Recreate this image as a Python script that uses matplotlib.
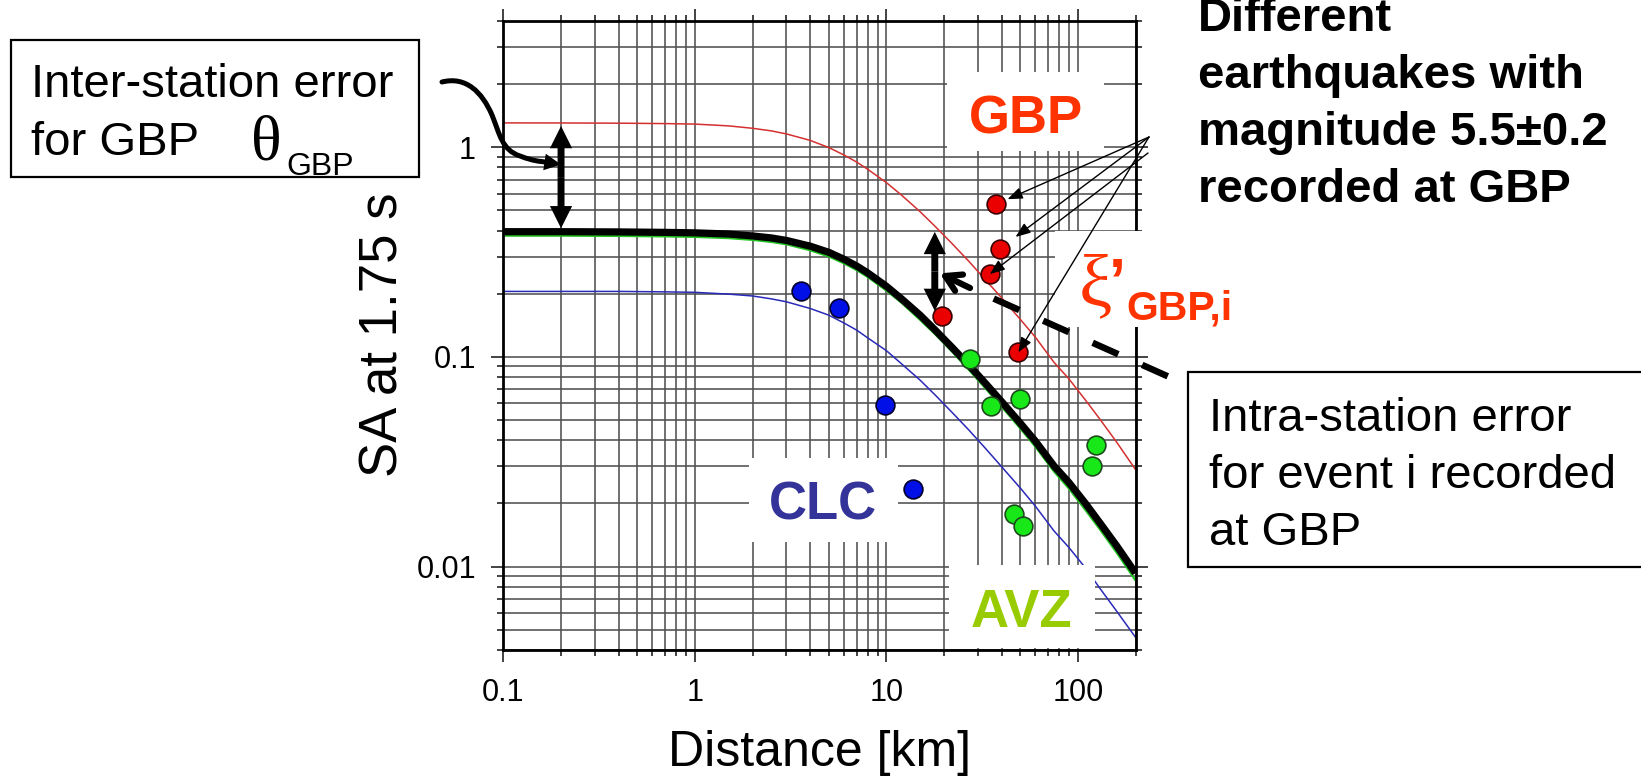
import matplotlib
matplotlib.use("Agg")
import matplotlib.pyplot as plt
from matplotlib import font_manager
from matplotlib.lines import Line2D
from matplotlib.patches import Rectangle, PathPatch
from matplotlib.path import Path
from matplotlib.ticker import FixedLocator, LogLocator, NullFormatter

W, H = 1641, 778

# Ground-motion prediction curves: distance (km) vs SA at 1.75 s (g)
dist_km = [0.1, 0.2, 0.4, 0.7, 1, 1.5, 2, 2.5, 3, 4, 5, 6, 7, 8, 10, 12, 15, 18,
           22, 27, 33, 40, 50, 60, 75, 90, 110, 130, 160, 200]
sa_median = [0.395, 0.395, 0.394, 0.392, 0.390, 0.385, 0.377, 0.369, 0.359, 0.337,
             0.315, 0.292, 0.271, 0.251, 0.217, 0.189, 0.158, 0.134, 0.111, 0.0912,
             0.0745, 0.0611, 0.0483, 0.0396, 0.0302, 0.0251, 0.0199, 0.0162, 0.0125, 0.0093]
sa_gbp_curve = [1.304, 1.303, 1.300, 1.294, 1.287, 1.262, 1.229, 1.195, 1.156, 1.076,
                0.995, 0.917, 0.848, 0.783, 0.677, 0.590, 0.492, 0.418, 0.347, 0.285,
                0.232, 0.191, 0.151, 0.124, 0.0942, 0.0783, 0.0619, 0.0506, 0.0390, 0.0290]
sa_clc_curve = [0.205, 0.205, 0.205, 0.204, 0.203, 0.199, 0.195, 0.189, 0.183, 0.170,
                0.158, 0.145, 0.134, 0.123, 0.107, 0.0926, 0.0774, 0.0657, 0.0544, 0.0447,
                0.0365, 0.0299, 0.0237, 0.0194, 0.0148, 0.0123, 0.0098, 0.0079, 0.0061, 0.0046]
sa_avz_curve = [0.378, 0.378, 0.377, 0.375, 0.373, 0.368, 0.361, 0.353, 0.344, 0.322,
                0.301, 0.279, 0.259, 0.240, 0.207, 0.181, 0.150, 0.128, 0.106, 0.0866,
                0.0706, 0.0578, 0.0456, 0.0373, 0.0284, 0.0235, 0.0185, 0.0151, 0.0116, 0.0086]

# Recorded events per station
gbp_dist = [37.4, 39.2, 34.7, 19.5, 48.9]
gbp_sa = [0.534, 0.328, 0.248, 0.157, 0.105]
clc_dist = [3.58, 5.65, 9.85, 13.7]
clc_sa = [0.205, 0.170, 0.0589, 0.0235]
avz_dist = [27.5, 35.2, 49.9, 124, 119, 46.4, 51.9]
avz_sa = [0.0973, 0.0582, 0.0627, 0.0379, 0.0303, 0.0179, 0.0156]

# Error bars: inter-station (theta) and intra-station (xi) terms
inter_x, inter_lo, inter_hi = 0.2, 0.41, 1.26
intra_x, intra_lo, intra_hi = 17.9, 0.1655, 0.394

x_ticks = [0.1, 1, 10, 100]
x_tick_labels = ["0.1", "1", "10", "100"]
y_ticks = [0.01, 0.1, 1]
y_tick_labels = ["0.01", "0.1", "1"]

plt.rcParams["font.family"] = ["Liberation Sans", "DejaVu Sans"]
SERIF = ["Liberation Serif", "DejaVu Serif"]

installed = {f.name for f in font_manager.fontManager.ttflist}
if "Liberation Sans Narrow" in installed:
    ylab_family, ylab_size = ["Liberation Sans Narrow", "Liberation Sans"], 46
else:
    ylab_family, ylab_size = ["Liberation Sans", "DejaVu Sans"], 38

fig = plt.figure(figsize=(W / 100, H / 100), dpi=100)
fig.patch.set_facecolor("white")


def fp(x, y):
    """Pixel position measured from the top-left corner -> figure fraction."""
    return (x / W, 1 - y / H)


ax_l, ax_r, ax_t, ax_b = 503.4, 1135.5, 20.8, 650.0
ax = fig.add_axes([ax_l / W, 1 - ax_b / H, (ax_r - ax_l) / W, (ax_b - ax_t) / H])
ax.set_xscale("log")
ax.set_yscale("log")
ax.set_xlim(0.1, 200)
ax.set_ylim(0.004, 4.0)

ax.xaxis.set_major_locator(FixedLocator(x_ticks))
ax.yaxis.set_major_locator(FixedLocator(y_ticks))
ax.set_xticklabels(x_tick_labels, fontsize=22)
ax.set_yticklabels(y_tick_labels, fontsize=22)
for axis in (ax.xaxis, ax.yaxis):
    axis.set_minor_locator(LogLocator(base=10, subs=range(2, 10), numticks=50))
    axis.set_minor_formatter(NullFormatter())

ax.grid(True, which="both", color="#505050", lw=1.15)
ax.tick_params(which="both", direction="out", top=True, right=True,
               width=1.2, color="#222222")
ax.tick_params(which="major", length=8.3)
ax.tick_params(which="minor", length=4.3)
ax.tick_params(axis="x", pad=12)
ax.tick_params(axis="y", pad=11.4)
for sp in ax.spines.values():
    sp.set_linewidth(2.0)

# Prediction curves
ax.plot(dist_km, sa_avz_curve, color="#22c422", lw=1.6, zorder=2.1)
ax.plot(dist_km, sa_median, color="black", lw=5.2, zorder=2.2,
        solid_capstyle="butt", solid_joinstyle="round")
ax.plot(dist_km, sa_gbp_curve, color="#d43030", lw=1.1, zorder=2.0)
ax.plot(dist_km, sa_clc_curve, color="#2a2ab8", lw=1.1, zorder=2.0)

# Observations
dot = dict(ls="none", marker="o", ms=13.5, mew=1.2, zorder=5)
ax.plot(gbp_dist, gbp_sa, mfc="#ea0000", mec="#3a0000", **dot)
ax.plot(clc_dist, clc_sa, mfc="#0010e6", mec="#00002a", **dot)
ax.plot(avz_dist, avz_sa, mfc="#18e818", mec="#1d4a1d", **dot)


def white_box(x0, y0, x1, y1):
    ax.add_patch(Rectangle(fp(x0, y1), (x1 - x0) / W, (y1 - y0) / H,
                           transform=fig.transFigure, clip_on=False,
                           facecolor="white", edgecolor="none", zorder=3))


def frame_box(x0, y0, x1, y1):
    ax.add_patch(Rectangle(fp(x0, y1), (x1 - x0) / W, (y1 - y0) / H,
                           transform=fig.transFigure, clip_on=False,
                           facecolor="white", edgecolor="black", lw=1.6, zorder=3))


def ftext(x, y, s, **kw):
    kw.setdefault("va", "baseline")
    kw.setdefault("zorder", 4)
    return ax.text(*fp(x, y), s, transform=fig.transFigure, **kw)


# Station labels on white patches
white_box(947, 72, 1104, 151)
white_box(749, 458, 898, 542)
white_box(949, 565, 1095, 648)
white_box(1055, 231, 1250, 327)
RED = "#ff3300"
ftext(1025.5, 133, "GBP", ha="center", fontsize=38, fontweight="bold", color=RED)
ftext(823, 520, "CLC", ha="center", fontsize=38, fontweight="bold", color="#333399")
ftext(1021.5, 627, "AVZ", ha="center", fontsize=38, fontweight="bold", color="#99cc00")
ftext(1095, 305, "\u03be", ha="center", fontsize=54, color=RED, family=SERIF)
ftext(1109, 300, "\u2019", ha="left", fontsize=44, fontweight="bold", color=RED)
ftext(1126, 319, "GBP,i", ha="left", fontsize=29.5, fontweight="bold", color=RED)

# Left explanatory box
frame_box(10.5, 39.7, 419, 177)
ftext(31, 97, "Inter-station error", fontsize=34)
ftext(31, 155, "for GBP", fontsize=34)
ftext(251, 160, "\u03b8", fontsize=46, family=SERIF)
ftext(286, 175, "GBP", fontsize=23)

# Right explanatory box
frame_box(1188, 372, 1665, 567)
for yb, line in zip([431, 488, 545], ["Intra-station error", "for event i recorded", "at GBP"]):
    ftext(1209, yb, line, fontsize=34)

# Bold note at top right
for yb, line in zip([31, 88, 145, 202],
                    ["Different", "earthquakes with", "magnitude 5.5\u00b10.2", "recorded at GBP"]):
    ftext(1198, yb, line, fontsize=34, fontweight="bold")

# Double-headed arrows for the error terms (two filled halves from the middle)
big = dict(arrowstyle="simple,head_length=16,head_width=16,tail_width=5",
           mutation_scale=1, color="black", lw=0, shrinkA=0, shrinkB=0)
for xx, lo, hi in [(inter_x, inter_lo, inter_hi), (intra_x, intra_lo, intra_hi)]:
    mid = (lo * hi) ** 0.5
    for end in (lo, hi):
        ax.annotate("", xy=(xx, end), xytext=(xx, mid), arrowprops=big, zorder=6)

# Curved pointer from the left box to the inter-station arrow
verts = [(442, 82), (466, 76), (482, 92), (492, 115),
         (500, 135), (502, 150), (520, 156),
         (528, 159), (533, 160.5), (541, 161.5)]
codes = [Path.MOVETO] + [Path.CURVE4] * 9
curve = Path([fp(*v) for v in verts], codes)
ax.add_patch(PathPatch(curve, transform=fig.transFigure, clip_on=False,
                       facecolor="none", edgecolor="black", lw=3.6,
                       capstyle="round", zorder=6))
ax.annotate("", xy=fp(561, 164.5), xycoords="figure fraction",
            xytext=fp(540, 161.3), textcoords="figure fraction",
            arrowprops=dict(arrowstyle="simple,head_length=12,head_width=12,tail_width=3.6",
                            mutation_scale=1, color="black", lw=0,
                            shrinkA=0, shrinkB=0), zorder=6)

# Thin pointers from the note to the GBP events
thin = dict(arrowstyle="-|>,head_length=9,head_width=3.5", mutation_scale=1,
            color="black", lw=1.0, shrinkA=0)
fan = [(0, (1149, 137), 9), (1, (1149, 137), 14), (2, (1148, 153), 0), (4, (1149, 137), 0)]
for idx, origin, shrink in fan:
    ax.annotate("", xy=(gbp_dist[idx], gbp_sa[idx]), xycoords="data",
                xytext=fp(*origin), textcoords="figure fraction",
                arrowprops=dict(thin, shrinkB=shrink), zorder=7)

# Dashed pointer from the right box to the intra-station arrow
ax.annotate("", xy=(19.0, 0.25), xycoords="data",
            xytext=fp(970, 288), textcoords="figure fraction",
            arrowprops=dict(arrowstyle="->,head_length=11,head_width=6.5",
                            mutation_scale=1, color="black", lw=4.5,
                            shrinkA=0, shrinkB=0), zorder=7)
x0, y0 = fp(993.7, 298.6)
x1, y1 = fp(1176, 380)
ax.add_artist(Line2D([x0, x1], [y0, y1], transform=fig.transFigure, clip_on=False,
                     color="black", lw=4.7, ls=(0, (4.3, 4.0)),
                     dash_capstyle="butt", zorder=7))

# Axis labels
ax.set_xlabel("Distance [km]", fontsize=36)
ax.xaxis.label.set(va="baseline", ha="center")
ax.xaxis.set_label_coords(*fp(820, 766), transform=fig.transFigure)
ax.set_ylabel("SA at 1.75 s", fontsize=ylab_size, family=ylab_family)
ax.yaxis.label.set(va="baseline", ha="center", rotation_mode="anchor")
ax.yaxis.set_label_coords(*fp(397, 334.5), transform=fig.transFigure)

fig.savefig("out.png", dpi=100)
